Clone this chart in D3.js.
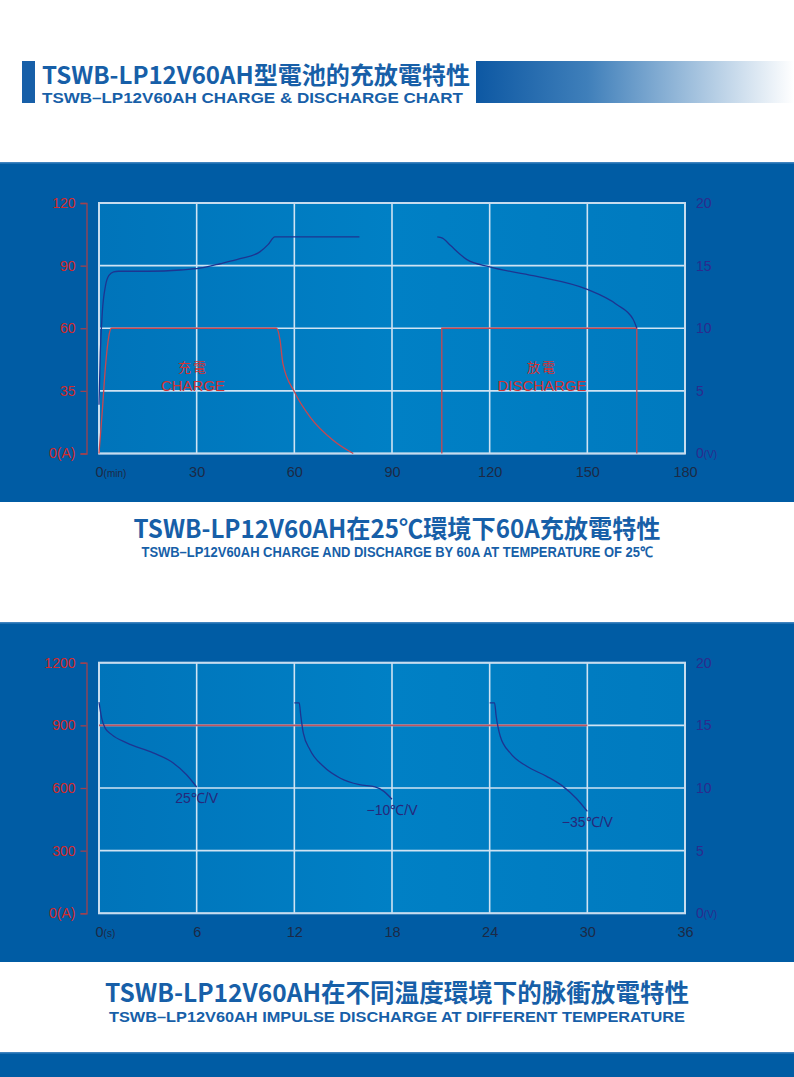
<!DOCTYPE html>
<html><head><meta charset="utf-8">
<script src="https://cdn.jsdelivr.net/npm/d3@7/dist/d3.min.js"></script>
<style>html,body{margin:0;padding:0;background:#fff;}svg{display:block;}</style>
</head><body>
<script>
// ---------- DATA ----------
// Chart 1: charge & discharge at 60A, 25°C  (time in minutes)
const chargeXTicks = [0, 30, 60, 90, 120, 150, 180];
const chargeXTickLabels = ["0", "30", "60", "90", "120", "150", "180"];
const currentTicksA = [0, 30, 60, 90, 120];
const currentTickLabelsA = ["0", "35", "60", "90", "120"];
const voltTicks = [0, 5, 10, 15, 20];
const voltTickLabels = ["0", "5", "10", "15", "20"];

const chargeVoltage = [[0,3.9],[0.4,8.0],[1,11.2],[2,13.4],[3,14.2],[4.5,14.5],[6,14.55],[15,14.55],[25,14.65],[31,14.8],[37.2,15.15],[43.3,15.55],[49.4,16.1],[52,16.7],[54,17.3],[80,17.3]];
const chargeCurrent = [[0,0],[1,20],[2,42],[3,56],[3.8,60],[54.5,60],[55.6,54.4],[56.5,43],[60,29.6],[64.8,17.6],[71.9,6.4],[78.1,0]];
const dischargeVoltage = [[103.9,17.3],[105.5,17.2],[108,16.6],[112.9,15.5],[120,14.9],[133.3,14.2],[150,13.1],[159,11.9],[164.1,10.7],[165.2,10.0]];
const dischargeCurrent = [[105.3,0],[105.3,60],[165.2,60],[165.2,0]];

// Chart 2: impulse discharge at different temperatures (time in seconds)
const pulseXTicks = [0, 6, 12, 18, 24, 30, 36];
const pulseXTickLabels = ["0", "6", "12", "18", "24", "30", "36"];
const pulseCurrentTicks = [0, 300, 600, 900, 1200];
const pulseCurrentTickLabels = ["0", "300", "600", "900", "1200"];
const pulseCurrent = [[0,900],[30,900]];
const volt25 = [[0,16.85],[0.16,15.6],[0.37,14.8],[0.78,14.26],[1.7,13.6],[3.33,12.8],[4.56,12.0],[5.38,11.06],[6,10.08]];
const voltM10 = [[12,16.8],[12.3,16.8],[12.4,15.73],[12.55,14.4],[12.96,13.06],[13.78,11.73],[14.8,10.8],[16.0,10.26],[16.96,10.08],[17.5,9.73],[18,9.1]];
const voltM35 = [[24,16.8],[24.3,16.8],[24.4,15.73],[24.65,14.13],[25.26,12.8],[26.28,11.73],[27.5,10.93],[28.5,10.13],[29.3,9.2],[30,8.13]];
const pulseLabels = [
  {text:"25℃/V", t:6, v:10.08},
  {text:"−10℃/V", t:18, v:9.1},
  {text:"−35℃/V", t:30, v:8.13}
];

// ---------- DRAW ----------
const W = 794, H = 1077;
const svg = d3.select("body").append("svg").attr("width", W).attr("height", H);
svg.append("rect").attr("width", W).attr("height", H).attr("fill", "#ffffff");

const defs = svg.append("defs");
const hg = defs.append("linearGradient").attr("id","hdrGrad").attr("x1","0").attr("x2","1").attr("y1","0").attr("y2","0");
hg.append("stop").attr("offset","0").attr("stop-color","#0d58a3");
hg.append("stop").attr("offset","0.35").attr("stop-color","#3f7fba");
hg.append("stop").attr("offset","1").attr("stop-color","#ffffff");
const pg = defs.append("linearGradient").attr("id","plotGrad").attr("x1","0").attr("x2","1").attr("y1","0").attr("y2","0");
pg.append("stop").attr("offset","0").attr("stop-color","#0074ba");
pg.append("stop").attr("offset","0.5").attr("stop-color","#0080c5");
pg.append("stop").attr("offset","1").attr("stop-color","#007abf");

const blue = "#175fa8";
const cjk = "'Noto Sans CJK TC','Noto Sans CJK SC',sans-serif";
const latin = "'Liberation Sans',Arial,sans-serif";

// Header
svg.append("rect").attr("x",22).attr("y",61).attr("width",13).attr("height",42).attr("fill",blue);
svg.append("rect").attr("x",476).attr("y",61).attr("width",318).attr("height",42).attr("fill","url(#hdrGrad)");
svg.append("text").attr("x",42).attr("y",83.5).attr("fill",blue)
  .attr("font-family",cjk).attr("font-weight",700).attr("font-size",24)
  .attr("textLength",428).attr("lengthAdjust","spacingAndGlyphs")
  .text("TSWB-LP12V60AH型電池的充放電特性");
svg.append("text").attr("x",42).attr("y",102.5).attr("fill",blue)
  .attr("font-family",latin).attr("font-weight",700).attr("font-size",14.5)
  .attr("textLength",421).attr("lengthAdjust","spacingAndGlyphs")
  .text("TSWB–LP12V60AH CHARGE & DISCHARGE CHART");

function drawChart(cfg) {
  const g = svg.append("g");
  g.append("rect").attr("x",0).attr("y",cfg.bandY).attr("width",W).attr("height",340).attr("fill","#005ca4");
  g.append("rect").attr("x",0).attr("y",cfg.bandY).attr("width",W).attr("height",1.5).attr("fill","#3f83bf");

  const x = d3.scaleLinear().domain(cfg.xDomain).range([99, 685]);
  const yL = d3.scaleLinear().domain(cfg.yLDomain).range([cfg.bottom, cfg.top]);
  const yR = d3.scaleLinear().domain([0, 20]).range([cfg.bottom, cfg.top]);

  g.append("rect").attr("x",99).attr("y",cfg.top).attr("width",586).attr("height",cfg.bottom-cfg.top).attr("fill","url(#plotGrad)");

  // grid
  const grid = g.append("g").attr("stroke","#cfe3f3").attr("stroke-width",1.6);
  cfg.xTicks.forEach(t => grid.append("line").attr("x1",x(t)).attr("x2",x(t)).attr("y1",cfg.top).attr("y2",cfg.bottom));
  cfg.yLTicks.forEach(t => grid.append("line").attr("x1",99).attr("x2",685).attr("y1",yL(t)).attr("y2",yL(t)));
  g.append("rect").attr("x",99).attr("y",cfg.top).attr("width",586).attr("height",cfg.bottom-cfg.top)
    .attr("fill","none").attr("stroke","#c6dcef").attr("stroke-width",2);

  // left axis (current)
  const la = g.append("g").attr("transform","translate(86.5,0)")
    .call(d3.axisLeft(yL).tickValues(cfg.yLTicks).tickSize(6).tickSizeOuter(6).tickPadding(5)
      .tickFormat((d,i) => cfg.yLLabels[i] + (i === 0 ? "(A)" : "")));
  la.selectAll("path,line").attr("stroke","#a2424e").attr("stroke-width",1.3);
  la.selectAll("text").attr("fill","#d42a2a").attr("font-family",latin).attr("font-size",14);

  // right axis (voltage)
  const ra = g.append("g").attr("transform","translate(685,0)")
    .call(d3.axisRight(yR).tickValues(voltTicks).tickSize(0).tickPadding(11).tickFormat("")); 
  ra.select(".domain").remove();
  ra.selectAll(".tick").each(function(d,i){
    const t = d3.select(this).select("text").attr("fill","#2b2b8e").attr("font-family",latin).attr("font-size",14);
    t.append("tspan").text(voltTickLabels[i]);
    if (i === 0) t.append("tspan").attr("font-size",10).text("(V)");
  });

  // bottom axis
  const ba = g.append("g").attr("transform",`translate(0,${cfg.bottom})`)
    .call(d3.axisBottom(x).tickValues(cfg.xTicks).tickSize(0).tickPadding(13).tickFormat(""));
  ba.select(".domain").remove();
  ba.selectAll(".tick").each(function(d,i){
    const t = d3.select(this).select("text").attr("fill","#1c2a46").attr("font-family",latin).attr("font-size",14.5);
    if (i === 0) {
      t.attr("text-anchor","start").attr("x",-4);
      t.append("tspan").text(cfg.xLabels[i]);
      t.append("tspan").attr("font-size",10).text(cfg.xUnit);
    } else {
      t.append("tspan").text(cfg.xLabels[i]);
    }
  });

  return {g, x, yL, yR};
}

// Chart 1
const c1 = drawChart({bandY:162, top:203, bottom:453.5, xDomain:[0,180], yLDomain:[0,120],
  xTicks:chargeXTicks, xLabels:chargeXTickLabels, xUnit:"(min)", yLTicks:currentTicksA, yLLabels:currentTickLabelsA});
const lineV1 = d3.line().x(d=>c1.x(d[0])).y(d=>c1.yR(d[1])).curve(d3.curveMonotoneX);
const lineA1 = d3.line().x(d=>c1.x(d[0])).y(d=>c1.yL(d[1])).curve(d3.curveMonotoneX);
const lineA1lin = d3.line().x(d=>c1.x(d[0])).y(d=>c1.yL(d[1]));
c1.g.append("path").attr("d",lineA1(chargeCurrent)).attr("fill","none").attr("stroke","#c9474f").attr("stroke-width",1.3);
c1.g.append("path").attr("d",lineA1lin(dischargeCurrent)).attr("fill","none").attr("stroke","#c9474f").attr("stroke-width",1.3);
c1.g.append("path").attr("d",lineV1(chargeVoltage)).attr("fill","none").attr("stroke","#1d3591").attr("stroke-width",1.3);
c1.g.append("path").attr("d",lineV1(dischargeVoltage)).attr("fill","none").attr("stroke","#1d3591").attr("stroke-width",1.3);

[{cx:193, a:"充電", b:"CHARGE"},{cx:542, a:"放電", b:"DISCHARGE"}].forEach(l => {
  c1.g.append("text").attr("x",l.cx).attr("y",372).attr("text-anchor","middle").attr("fill","#d43232")
    .attr("font-family",cjk).attr("font-size",13).attr("letter-spacing",2).text(l.a);
  c1.g.append("text").attr("x",l.cx).attr("y",391).attr("text-anchor","middle").attr("fill","#d43232")
    .attr("font-family",latin).attr("font-size",15).text(l.b);
});

// Chart 2
const c2 = drawChart({bandY:622, top:662.7, bottom:913.3, xDomain:[0,36], yLDomain:[0,1200],
  xTicks:pulseXTicks, xLabels:pulseXTickLabels, xUnit:"(s)", yLTicks:pulseCurrentTicks, yLLabels:pulseCurrentTickLabels});
const lineV2 = d3.line().x(d=>c2.x(d[0])).y(d=>c2.yR(d[1])).curve(d3.curveMonotoneX);
const lineA2 = d3.line().x(d=>c2.x(d[0])).y(d=>c2.yL(d[1]));
c2.g.append("path").attr("d",lineA2(pulseCurrent)).attr("fill","none").attr("stroke","#c05560").attr("stroke-width",1.7);
[volt25, voltM10, voltM35].forEach(s => {
  c2.g.append("path").attr("d",lineV2(s)).attr("fill","none").attr("stroke","#1d3591").attr("stroke-width",1.3);
});
pulseLabels.forEach(l => {
  c2.g.append("text").attr("x",c2.x(l.t)).attr("y",c2.yR(l.v)+16).attr("text-anchor","middle").attr("fill","#27287a")
    .attr("font-family",latin).attr("font-size",14).text(l.text);
});

// Captions
function caption(y1, w1, t1, y2, w2, t2) {
  svg.append("text").attr("x",397).attr("y",y1).attr("text-anchor","middle").attr("fill",blue)
    .attr("font-family",cjk).attr("font-weight",700).attr("font-size",25)
    .attr("textLength",w1).attr("lengthAdjust","spacingAndGlyphs").text(t1);
  svg.append("text").attr("x",397).attr("y",y2).attr("text-anchor","middle").attr("fill",blue)
    .attr("font-family",latin).attr("font-weight",700).attr("font-size",14.5)
    .attr("textLength",w2).attr("lengthAdjust","spacingAndGlyphs").text(t2);
}
caption(538, 527, "TSWB-LP12V60AH在25℃環境下60A充放電特性", 557, 511, "TSWB–LP12V60AH CHARGE AND DISCHARGE BY 60A  AT TEMPERATURE OF 25℃");
caption(1002, 584, "TSWB-LP12V60AH在不同温度環境下的脉衝放電特性", 1022, 576, "TSWB–LP12V60AH IMPULSE DISCHARGE AT DIFFERENT TEMPERATURE");

svg.append("rect").attr("x",0).attr("y",1052).attr("width",W).attr("height",25).attr("fill","#005ca4");
svg.append("rect").attr("x",0).attr("y",1052).attr("width",W).attr("height",1.5).attr("fill","#3f83bf");
</script>
</body></html>
